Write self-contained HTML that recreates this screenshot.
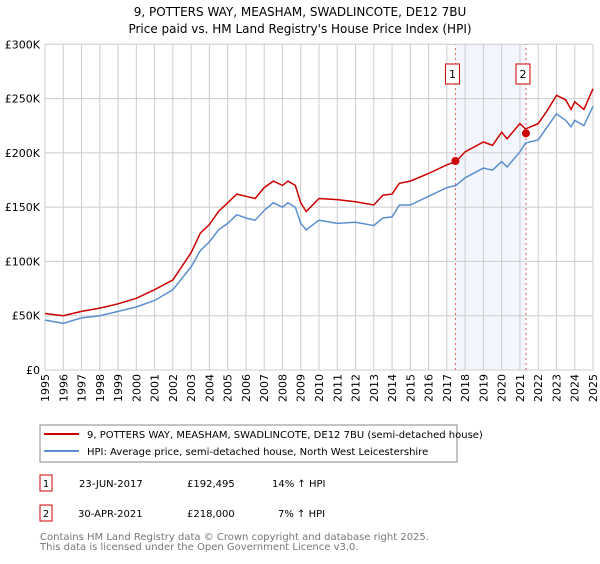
<!DOCTYPE html>
<html><head><meta charset="utf-8"><style>
body{margin:0;background:#fff;font-family:"DejaVu Sans","Liberation Sans",sans-serif;}
svg text{font-family:"DejaVu Sans","Liberation Sans",sans-serif;}
</style></head><body>
<svg id="c" width="600" height="560" viewBox="0 0 600 560">
<text x="300" y="16" text-anchor="middle" font-size="12">9, POTTERS WAY, MEASHAM, SWADLINCOTE, DE12 7BU</text>
<text x="300" y="33" text-anchor="middle" font-size="12">Price paid vs. HM Land Registry's House Price Index (HPI)</text>
<g id="grid"></g><g id="series"></g>
<g>
<rect x="40" y="425" width="417" height="37" fill="#fff" stroke="#888"/>
<line x1="44" y1="434" x2="79" y2="434" stroke="#cc0000" stroke-width="2"/>
<text x="87" y="438" font-size="10">9, POTTERS WAY, MEASHAM, SWADLINCOTE, DE12 7BU (semi-detached house)</text>
<line x1="44" y1="451" x2="79" y2="451" stroke="#5b8fd0" stroke-width="2"/>
<text x="87" y="455" font-size="10">HPI: Average price, semi-detached house, North West Leicestershire</text>
</g>
<g font-size="10">
<rect x="40" y="475" width="12" height="16" fill="#fff" stroke="#cc0000"/><text x="46" y="487" text-anchor="middle">1</text>
<text x="79" y="487">23-JUN-2017</text><text x="187" y="487">£192,495</text><text x="272" y="487">14% ↑ HPI</text>
<rect x="40" y="505" width="12" height="16" fill="#fff" stroke="#cc0000"/><text x="46" y="517" text-anchor="middle">2</text>
<text x="78" y="517">30-APR-2021</text><text x="187" y="517">£218,000</text><text x="278" y="517">7% ↑ HPI</text>
</g>
<text x="40" y="540" font-size="10" fill="#777">Contains HM Land Registry data © Crown copyright and database right 2025.</text>
<text x="40" y="550" font-size="10" fill="#777">This data is licensed under the Open Government Licence v3.0.</text>
</svg>
<script>
const years=[1995,1996,1997,1998,1999,2000,2001,2002,2003,2003.5,2004,2004.5,2005,2005.5,2006,2006.5,2007,2007.5,2008,2008.3,2008.7,2009,2009.3,2010,2011,2012,2013,2013.5,2014,2014.4,2015,2016,2017,2017.5,2018,2019,2019.5,2020,2020.3,2021,2021.3,2022,2022.5,2023,2023.5,2023.8,2024,2024.5,2025];
const hpi=[46,43,48,50,54,58,64,74,95,110,118,129,135,143,140,138,147,154,150,154,150,135,129,138,135,136,133,140,141,152,152,160,168,170,177,186,184,192,187,201,209,212,224,236,230,224,230,225,243];
const price=[52,50,54,57,61,66,74,83,108,126,134,146,154,162,160,158,168,174,170,174,170,154,146,158,157,155,152,161,162,172,174,181,189,192,201,210,207,219,213,227,222,227,239,253,249,240,247,240,259];
const yTicks=[0,50,100,150,200,250,300];
const yLabels=["£0","£50K","£100K","£150K","£200K","£250K","£300K"];
const sales=[{t:2017.47,v:192.495,n:"1"},{t:2021.33,v:218,n:"2"}];
const NS="http://www.w3.org/2000/svg";
const X=t=>45+(t-1995)*(548/30), Y=v=>370-v*(325.7/300);
function mk(p,tag,a){const e=document.createElementNS(NS,tag);for(const k in a)e.setAttribute(k,a[k]);p.appendChild(e);return e;}
const g=document.getElementById('grid'), s=document.getElementById('series');
let sh=mk(g,'rect',{x:X(sales[0].t),y:Y(300),width:X(sales[1].t)-X(sales[0].t),height:Y(0)-Y(300),fill:'#eef3fc',opacity:0.7});


for(let yr=1995;yr<=2025;yr++){
 let l=mk(g,'line',{x1:X(yr),x2:X(yr),y1:Y(0),y2:Y(300),stroke:'#cccccc'});
 
 
 let t=mk(g,'text',{x:0,y:0,'font-size':11,'text-anchor':'end',transform:`translate(${X(yr)+4},374) rotate(-90)`});
 t.textContent=yr;
 
 
}
yTicks.forEach((v,i)=>{
 let l=mk(g,'line',{x1:X(1995),x2:X(2025),y1:Y(v),y2:Y(v),stroke:'#cccccc'});
 
 
 let t=mk(g,'text',{x:40,y:Y(v)+4,'font-size':11,'text-anchor':'end'});
 t.textContent=yLabels[i];
 
 
});
sales.forEach(d=>{
 let l=mk(g,'line',{x1:X(d.t),x2:X(d.t),y1:Y(0),y2:Y(300),stroke:'#e06060','stroke-dasharray':'2,3'});
 
 
 let r=mk(g,'rect',{x:X(d.t)-10,y:64,width:14,height:20,fill:'#fff',stroke:'#cc0000'});
 
 
 let t=mk(g,'text',{x:X(d.t)-3,y:78,'font-size':11,'text-anchor':'middle'});
 t.textContent=d.n;
 
 
});
const pts=a=>years.map((t,i)=>X(t).toFixed(1)+','+Y(a[i]).toFixed(1)).join(' ');
let hl=mk(s,'polyline',{points:pts(hpi),fill:'none',stroke:'#5b8fd0','stroke-width':1.5});


let pl=mk(s,'polyline',{points:pts(price),fill:'none',stroke:'#cc0000','stroke-width':1.5});


sales.forEach(d=>{
 let c=mk(s,'circle',{cx:X(d.t),cy:Y(d.v),r:4,fill:'#cc0000'});
 
 
});
</script>
</body></html>
